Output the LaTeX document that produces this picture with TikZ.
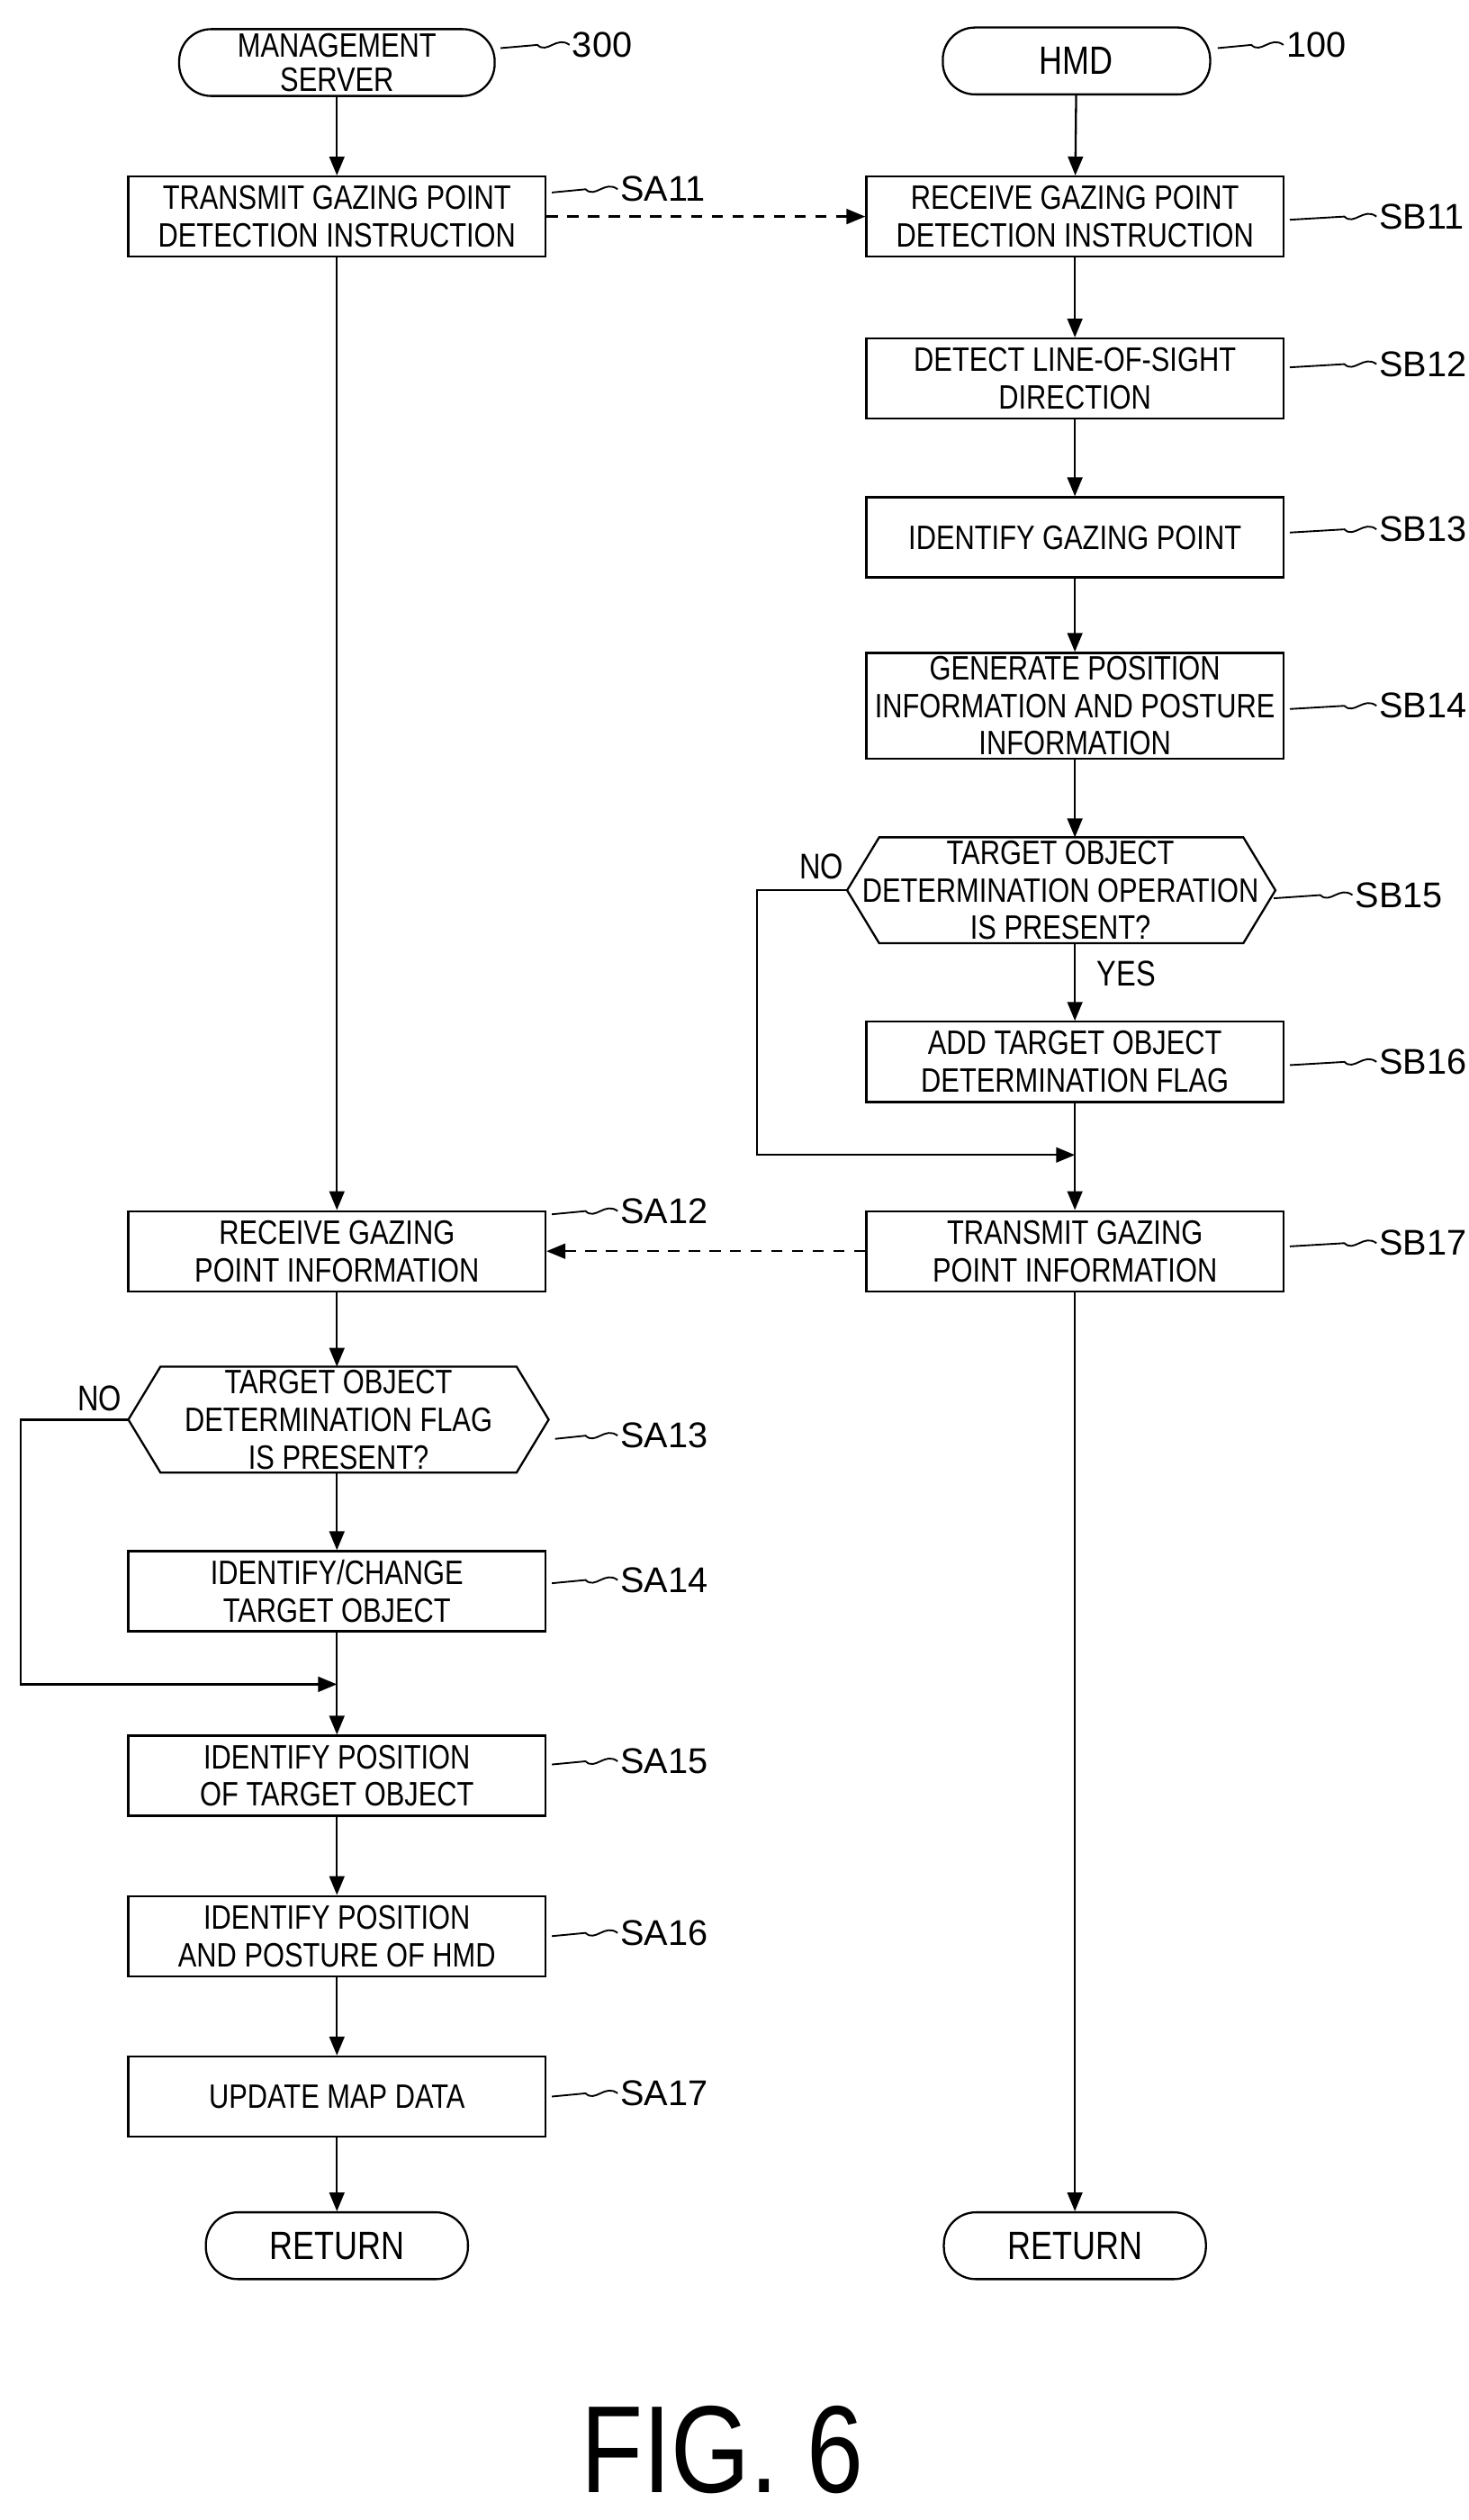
\documentclass[tikz,border=0pt]{standalone}
\usepackage{fontspec}
\setmainfont{Liberation Sans}
\newfontfamily\narrow[FakeStretch=0.82]{Liberation Sans}
\usetikzlibrary{arrows.meta}
\begin{document}
\begin{tikzpicture}[x=0.03cm,y=-0.03cm,line width=1.1pt,
 box/.style={draw,minimum width=7.8cm,minimum height=1.5cm,inner sep=0pt,align=center,font=\narrow\fontsize{18}{20}\selectfont},
 hx/.style={minimum width=7.9cm,minimum height=1.98cm,inner sep=0pt,align=center,font=\narrow\fontsize{18}{20}\selectfont},
 term/.style={draw,rounded corners=0.6cm,minimum height=1.25cm,inner sep=0pt,align=center,font=\narrow\fontsize{18}{18}\selectfont},
 lab/.style={font=\fontsize{19}{19}\selectfont,anchor=west,inner sep=1pt},
 arr/.style={-{Triangle[length=10pt,width=8pt]}},
 dsh/.style={arr,dashed,dash pattern=on 6pt off 5pt}]
\fill[white] (0,0) rectangle (900,1571);
% left column
\node[term,minimum width=5.9cm] (ms) at (210,39) {MANAGEMENT\\SERVER};
\node[box] (sa11) at (210,135) {TRANSMIT GAZING POINT\\DETECTION INSTRUCTION};
\node[box] (sa12) at (210,780) {RECEIVE GAZING\\POINT INFORMATION};
\node[hx] (sa13) at (211,885) {TARGET OBJECT\\DETERMINATION FLAG\\IS PRESENT?};
\draw (80,885)--(100,852)--(322,852)--(342,885)--(322,918)--(100,918)--cycle;
\node[box] (sa14) at (210,992) {IDENTIFY/CHANGE\\TARGET OBJECT};
\node[box] (sa15) at (210,1107) {IDENTIFY POSITION\\OF TARGET OBJECT};
\node[box] (sa16) at (210,1207) {IDENTIFY POSITION\\AND POSTURE OF HMD};
\node[box] (sa17) at (210,1307) {UPDATE MAP DATA};
\node[term,minimum width=4.9cm,font=\narrow\fontsize{21}{21}\selectfont] (r1) at (210,1400) {RETURN};
% right column
\node[term,minimum width=5.0cm,font=\narrow\fontsize{21}{21}\selectfont] (hmd) at (671,38) {HMD};
\node[box] (sb11) at (670,135) {RECEIVE GAZING POINT\\DETECTION INSTRUCTION};
\node[box] (sb12) at (670,236) {DETECT LINE-OF-SIGHT\\DIRECTION};
\node[box] (sb13) at (670,335) {IDENTIFY GAZING POINT};
\node[box,minimum height=1.98cm] (sb14) at (670,440) {GENERATE POSITION\\INFORMATION AND POSTURE\\INFORMATION};
\node[hx] (sb15) at (661,555) {TARGET OBJECT\\DETERMINATION OPERATION\\IS PRESENT?};
\draw (528,555)--(548,522)--(775,522)--(795,555)--(775,588)--(548,588)--cycle;
\node[box] (sb16) at (670,662) {ADD TARGET OBJECT\\DETERMINATION FLAG};
\node[box] (sb17) at (670,780) {TRANSMIT GAZING\\POINT INFORMATION};
\node[term,minimum width=4.9cm,font=\narrow\fontsize{21}{21}\selectfont] (r2) at (670,1400) {RETURN};
% arrows
\draw[arr] (ms) -- (sa11);
\draw[arr] (sa11) -- (sa12);
\draw[arr] (sa12) -- (210,852);
\draw[arr] (210,918) -- (sa14);
\draw[arr] (sa14) -- (sa15);
\draw[arr] (sa15) -- (sa16);
\draw[arr] (sa16) -- (sa17);
\draw[arr] (sa17) -- (r1);
\draw[arr] (80,885) -- (13,885) -- (13,1050) -- (210,1050);
\draw[arr] (hmd) -- (sb11);
\draw[arr] (sb11) -- (sb12);
\draw[arr] (sb12) -- (sb13);
\draw[arr] (sb13) -- (sb14);
\draw[arr] (sb14) -- (670,522);
\draw[arr] (670,588) -- (sb16);
\draw[arr] (sb16) -- (sb17);
\draw[arr] (528,555) -- (472,555) -- (472,720) -- (670,720);
\draw[arr] (sb17) -- (r2);
\draw[dsh] (sa11) -- (sb11);
\draw[dsh] (sb17) -- (sa12);
\node[font=\narrow\fontsize{19}{19}\selectfont] at (512,540) {NO};
\node[font=\narrow\fontsize{19}{19}\selectfont] at (702,607) {YES};
\node[font=\narrow\fontsize{19}{19}\selectfont] at (62,872) {NO};
% step labels with leaders
\foreach \x/\y/\t/\bx in {355/28/300/308, 800/28/100/755,
 385/118/SA11/340, 858/135/SB11/800, 858/227/SB12/800, 858/330/SB13/800,
 858/440/SB14/800, 843/558/SB15/790, 858/662/SB16/800, 858/775/SB17/800,
 385/755/SA12/340, 385/895/SA13/342, 385/985/SA14/340, 385/1098/SA15/340,
 385/1205/SA16/340, 385/1305/SA17/340}{
 \node[lab] (l\t) at (\x,\y) {\t};
 \draw[line width=0.9pt] (l\t.west) .. controls (\x-8,\y-6) and (\x-14,\y+6) .. (\x-20,\y) -- (\bx+4,\y+2);
}
\node[font=\narrow\fontsize{66}{66}\selectfont] (fig) at (450,1527) {FIG. 6};
\end{tikzpicture}
\end{document}
